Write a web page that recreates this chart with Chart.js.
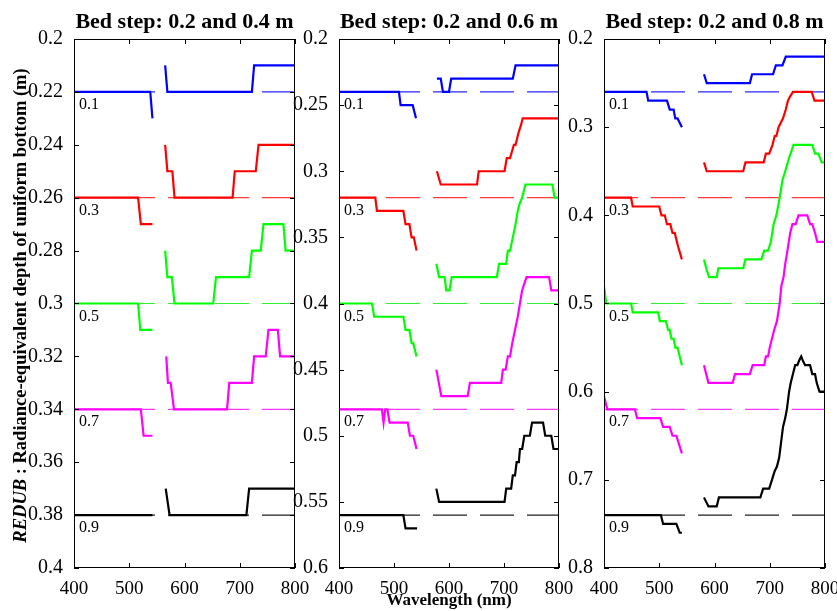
<!DOCTYPE html>
<html>
<head>
<meta charset="utf-8">
<title>REDUB by wavelength</title>
<script src="https://cdn.jsdelivr.net/npm/chart.js@4.4.0/dist/chart.umd.min.js"></script>
<style>
  html, body { margin: 0; padding: 0; background: #fff; overflow: hidden; }
  #wrap { position: relative; width: 837px; height: 611px; overflow: hidden; }
  canvas { position: absolute; top: 0; }
</style>
</head>
<body>
<div id="wrap">
  <canvas id="c1" width="320" height="611" style="left:0px"></canvas>
  <canvas id="c2" width="290" height="611" style="left:290px"></canvas>
  <canvas id="c3" width="300" height="611" style="left:555px"></canvas>
</div>
<script>
// wavelength axis (nm) and the step fractions shown next to each reference line
const wavelengthTicks = [400, 500, 600, 700, 800];
const stepLabels = ['0.1', '0.3', '0.5', '0.7', '0.9'];
const lineColors = ['#0000ff', '#ff0000', '#00ff00', '#ff00ff', '#000000'];
const dashColors = ['#2a2aff', '#ff3a3a', '#30f030', '#ff3aff', '#202020'];

// reference depths (dashed lines) per bed step
const p1Refs = [0.22, 0.26, 0.30, 0.34, 0.38];
const p2Refs = [0.24, 0.32, 0.40, 0.48, 0.56];
const p3Refs = [0.26, 0.38, 0.50, 0.62, 0.74];

// [wavelength, depth] pairs; null splits the two spectral bands
// bed step 0.2 / 0.4 m
const p1Blue = [[400,0.22],[538,0.22],[542,0.23],null,[565,0.21],[569,0.22],[722,0.22],[726,0.21],[800,0.21]];
const p1Red = [[400,0.26],[516,0.26],[521,0.27],[542,0.27],null,[565,0.24],[569,0.25],[578,0.25],[582,0.26],[687,0.26],[691,0.25],[729,0.25],[734,0.24],[800,0.24]];
const p1Green = [[400,0.30],[516,0.30],[520,0.31],[542,0.31],null,[565,0.28],[569,0.29],[577,0.29],[582,0.30],[652,0.30],[657,0.29],[717,0.29],[722,0.28],[738,0.28],[743,0.27],[779,0.27],[783,0.28],[800,0.28]];
const p1Magenta = [[400,0.34],[521,0.34],[526,0.35],[542,0.35],null,[567,0.32],[570,0.33],[575,0.33],[581,0.34],[677,0.34],[681,0.33],[722,0.33],[726,0.32],[747,0.32],[752,0.31],[769,0.31],[773,0.32],[800,0.32]];
const p1Black = [[400,0.38],[542,0.38],null,[566,0.37],[573,0.38],[712,0.38],[717,0.37],[800,0.37]];

// bed step 0.2 / 0.6 m
const p2Blue = [[400,0.24],[509,0.24],[512,0.25],[534,0.25],[537,0.255],[540,0.26],null,[578,0.23],[585,0.23],[589,0.24],[600,0.24],[604,0.23],[716,0.23],[721,0.22],[800,0.22]];
const p2Red = [[400,0.32],[466,0.32],[469,0.33],[517,0.33],[521,0.34],[528,0.34],[532,0.35],[536,0.35],[541,0.36],null,[578,0.30],[585,0.31],[651,0.31],[654,0.30],[701,0.30],[705,0.29],[711,0.29],[718,0.28],[721,0.28],[727,0.27],[731,0.265],[734,0.26],[800,0.26]];
const p2Green = [[400,0.40],[460,0.40],[464,0.41],[517,0.41],[521,0.42],[528,0.42],[532,0.43],[535,0.43],[541,0.44],null,[577,0.37],[582,0.38],[592,0.38],[595,0.39],[601,0.39],[605,0.38],[687,0.38],[691,0.37],[704,0.37],[707,0.36],[711,0.36],[716,0.35],[721,0.34],[725,0.33],[728,0.325],[733,0.32],[739,0.31],[788,0.31],[792,0.32],[800,0.32]];
const p2Magenta = [[400,0.48],[478,0.48],[481,0.49],[484,0.48],[488,0.48],[492,0.49],[525,0.49],[529,0.50],[535,0.50],[541,0.51],null,[577,0.45],[586,0.47],[634,0.47],[638,0.46],[695,0.46],[698,0.45],[703,0.45],[707,0.44],[711,0.44],[715,0.43],[720,0.42],[725,0.41],[729,0.40],[733,0.39],[737,0.385],[741,0.38],[782,0.38],[786,0.39],[800,0.39]];
const p2Black = [[400,0.56],[517,0.56],[521,0.57],[542,0.57],null,[577,0.54],[582,0.55],[701,0.55],[704,0.54],[713,0.54],[716,0.53],[720,0.53],[723,0.52],[727,0.52],[729,0.51],[733,0.51],[737,0.50],[747,0.50],[751,0.49],[771,0.49],[775,0.50],[786,0.50],[790,0.51],[800,0.51]];

// bed step 0.2 / 0.8 m
const p3Blue = [[400,0.26],[477,0.26],[480,0.27],[514,0.27],[519,0.28],[526,0.28],[529,0.29],[533,0.29],[537,0.295],[541,0.30],null,[581,0.24],[586,0.25],[664,0.25],[668,0.24],[706,0.24],[711,0.23],[723,0.23],[729,0.22],[800,0.22]];
const p3Red = [[400,0.38],[449,0.38],[452,0.39],[500,0.39],[504,0.40],[510,0.40],[514,0.41],[520,0.41],[524,0.42],[528,0.42],[534,0.435],[541,0.45],null,[581,0.34],[586,0.35],[652,0.35],[656,0.34],[689,0.34],[693,0.33],[699,0.33],[705,0.32],[709,0.31],[712,0.31],[716,0.30],[720,0.295],[724,0.29],[729,0.28],[733,0.27],[737,0.265],[742,0.26],[776,0.26],[781,0.27],[800,0.27]];
const p3Green = [[400,0.50],[402,0.49],[404,0.50],[449,0.50],[452,0.51],[498,0.51],[501,0.52],[512,0.52],[516,0.53],[519,0.53],[522,0.54],[526,0.54],[529,0.55],[533,0.55],[541,0.57],null,[581,0.45],[585,0.46],[590,0.47],[604,0.47],[607,0.46],[652,0.46],[656,0.45],[685,0.45],[690,0.44],[697,0.44],[702,0.43],[707,0.41],[712,0.40],[718,0.38],[723,0.36],[728,0.35],[735,0.335],[743,0.32],[777,0.32],[782,0.33],[788,0.33],[794,0.34],[800,0.34]];
const p3Magenta = [[400,0.615],[402,0.61],[406,0.62],[456,0.62],[460,0.63],[502,0.63],[507,0.64],[519,0.64],[524,0.65],[531,0.65],[536,0.66],[541,0.67],null,[581,0.57],[589,0.59],[633,0.59],[637,0.58],[664,0.58],[669,0.57],[690,0.57],[693,0.56],[697,0.56],[700,0.55],[704,0.54],[708,0.53],[713,0.52],[718,0.50],[721,0.48],[725,0.47],[728,0.455],[732,0.44],[737,0.42],[741,0.41],[747,0.41],[752,0.40],[768,0.40],[773,0.41],[777,0.41],[782,0.42],[786,0.43],[800,0.43]];
const p3Black = [[400,0.74],[503,0.74],[507,0.75],[531,0.75],[537,0.76],[541,0.76],null,[581,0.72],[585,0.725],[589,0.73],[604,0.73],[608,0.72],[683,0.72],[688,0.71],[699,0.71],[704,0.70],[709,0.69],[713,0.685],[717,0.675],[720,0.66],[724,0.64],[728,0.63],[731,0.62],[735,0.60],[738,0.59],[742,0.58],[746,0.57],[750,0.57],[753,0.565],[757,0.56],[760,0.565],[764,0.57],[773,0.57],[777,0.58],[782,0.58],[785,0.59],[790,0.60],[800,0.60]];

const serif = '"Liberation Serif", "Times New Roman", serif';

const panels = [
  { id: 'c1', title: 'Bed step: 0.2 and 0.4 m', yMax: 0.4, yStep: 0.02, refs: p1Refs,
    series: [p1Blue, p1Red, p1Green, p1Magenta, p1Black], yWidth: 74, padRight: 25, yTitle: true },
  { id: 'c2', title: 'Bed step: 0.2 and 0.6 m', yMax: 0.6, yStep: 0.05, refs: p2Refs,
    series: [p2Blue, p2Red, p2Green, p2Magenta, p2Black], yWidth: 49, padRight: 21, xTitle: true },
  { id: 'c3', title: 'Bed step: 0.2 and 0.8 m', yMax: 0.8, yStep: 0.1, refs: p3Refs,
    series: [p3Blue, p3Red, p3Green, p3Magenta, p3Black], yWidth: 49, padRight: 30 }
];

function toPoints(pairs) {
  let lastX = wavelengthTicks[0];
  return pairs.map(p => {
    if (p === null) return { x: lastX, y: null };
    lastX = p[0];
    return { x: p[0], y: p[1] };
  });
}

// frame, inward ticks, step labels and titles
const panelDecor = {
  id: 'panelDecor',
  afterDraw(chart, args, opts) {
    const ctx = chart.ctx;
    const a = chart.chartArea;
    const xs = chart.scales.x, ys = chart.scales.y;
    ctx.save();
    ctx.strokeStyle = '#000';
    ctx.lineWidth = 1;
    ctx.strokeRect(Math.round(a.left) + 0.5, Math.round(a.top) + 0.5,
      Math.round(a.right - a.left) - 1, Math.round(a.bottom - a.top) - 1);

    ctx.beginPath();
    xs.ticks.forEach(t => {
      const px = Math.round(xs.getPixelForValue(t.value)) + 0.5;
      ctx.moveTo(px, a.bottom); ctx.lineTo(px, a.bottom - 5);
      ctx.moveTo(px, a.top); ctx.lineTo(px, a.top + 5);
    });
    ys.ticks.forEach(t => {
      const py = Math.round(ys.getPixelForValue(t.value)) + 0.5;
      ctx.moveTo(a.left, py); ctx.lineTo(a.left + 5, py);
      ctx.moveTo(a.right, py); ctx.lineTo(a.right - 5, py);
    });
    ctx.stroke();

    ctx.fillStyle = '#000';
    ctx.font = '16px ' + serif;
    ctx.textAlign = 'left';
    ctx.textBaseline = 'alphabetic';
    opts.refs.forEach((r, i) => {
      ctx.fillText(stepLabels[i], a.left + 5, ys.getPixelForValue(r) + 17);
    });

    ctx.font = 'bold 22px ' + serif;
    ctx.textAlign = 'center';
    ctx.fillText(opts.title, (a.left + a.right) / 2, 28);

    if (opts.xTitle) {
      ctx.font = 'bold 17px ' + serif;
      ctx.fillText('Wavelength (nm)', (a.left + a.right) / 2, 605);
    }

    if (opts.yTitle) {
      const head = 'REDUB';
      const tail = ' : Radiance-equivalent depth of uniform bottom (m)';
      ctx.translate(21, (a.top + a.bottom) / 2 + 2);
      ctx.rotate(-Math.PI / 2);
      ctx.textAlign = 'left';
      ctx.textBaseline = 'middle';
      ctx.font = 'italic bold 18.5px ' + serif;
      const wh = ctx.measureText(head).width;
      ctx.font = 'bold 18.5px ' + serif;
      const wt = ctx.measureText(tail).width;
      const x0 = -(wh + wt) / 2;
      ctx.font = 'italic bold 18.5px ' + serif;
      ctx.fillText(head, x0, 0);
      ctx.font = 'bold 18.5px ' + serif;
      ctx.fillText(tail, x0 + wh, 0);
    }
    ctx.restore();
  }
};

panels.forEach(p => {
  const datasets = [];
  p.series.forEach((s, i) => {
    datasets.push({
      data: toPoints(s),
      borderColor: lineColors[i],
      borderWidth: 2.2,
      spanGaps: false,
      order: 1
    });
  });
  p.refs.forEach((r, i) => {
    datasets.push({
      data: [{ x: wavelengthTicks[0], y: r }, { x: wavelengthTicks[wavelengthTicks.length - 1], y: r }],
      borderColor: dashColors[i],
      borderWidth: 1.2,
      borderDash: [34, 13],
      order: 2
    });
  });

  new Chart(document.getElementById(p.id), {
    type: 'line',
    data: { datasets: datasets },
    plugins: [panelDecor],
    options: {
      responsive: false,
      animation: false,
      events: [],
      devicePixelRatio: 1,
      layout: { padding: { top: 39, right: p.padRight, bottom: 0, left: 0 } },
      elements: { point: { radius: 0 }, line: { tension: 0 } },
      plugins: {
        legend: { display: false },
        tooltip: { enabled: false },
        panelDecor: { title: p.title, refs: p.refs, xTitle: !!p.xTitle, yTitle: !!p.yTitle }
      },
      scales: {
        x: {
          type: 'linear',
          min: wavelengthTicks[0],
          max: wavelengthTicks[wavelengthTicks.length - 1],
          afterBuildTicks: s => { s.ticks = wavelengthTicks.map(v => ({ value: v })); },
          afterFit: s => { s.height = 43; },
          grid: { display: false },
          border: { display: false },
          ticks: { color: '#000', font: { family: serif, size: 19 }, padding: 2, maxRotation: 0, autoSkip: false }
        },
        y: {
          type: 'linear',
          reverse: true,
          min: 0.2,
          max: p.yMax,
          afterFit: s => { s.width = p.yWidth; },
          grid: { display: false },
          border: { display: false },
          ticks: {
            stepSize: p.yStep,
            color: '#000',
            font: { family: serif, size: 20 },
            padding: 3,
            autoSkip: false,
            callback: v => String(+v.toFixed(3))
          }
        }
      }
    }
  });
});
</script>
</body>
</html>
